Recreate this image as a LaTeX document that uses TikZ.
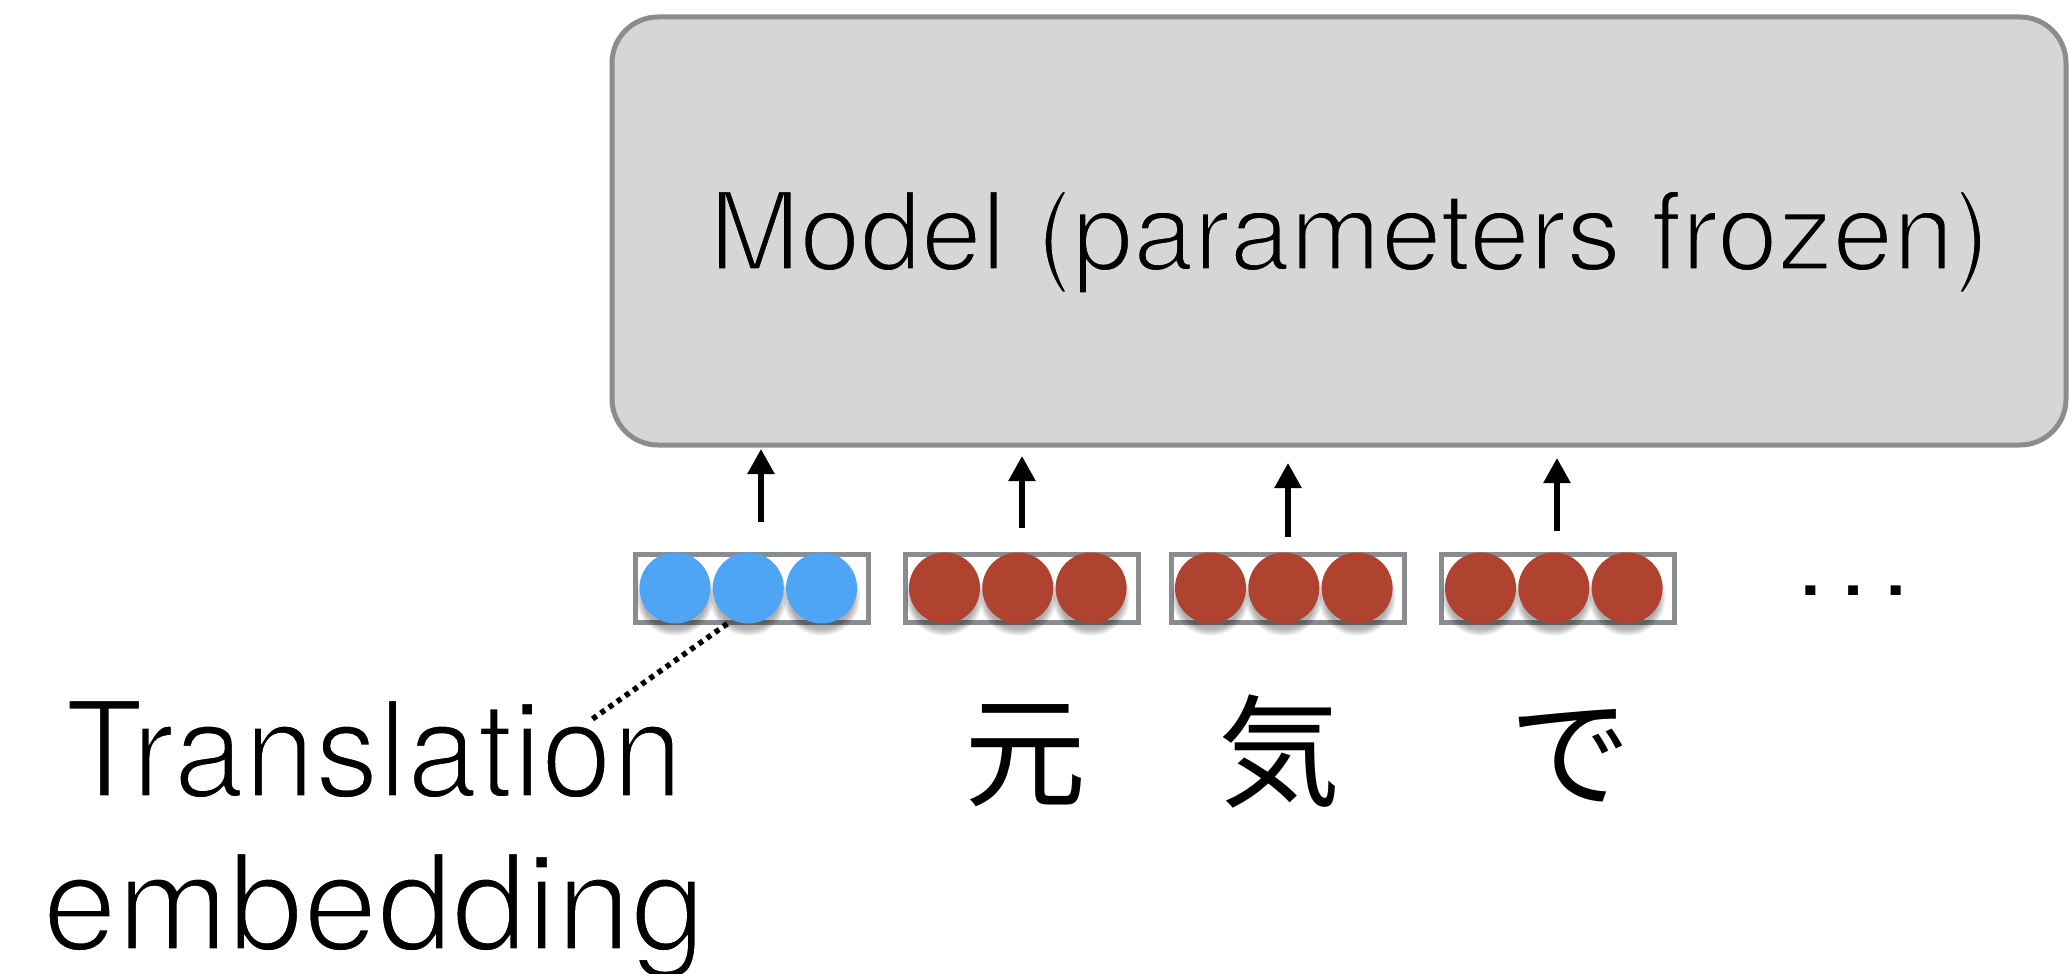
\documentclass[tikz,border=0pt]{standalone}
\usepackage{fontspec}
\setmainfont{TeX Gyre Heros}
\newfontfamily\narrowheros{TeX Gyre Heros}[FakeStretch=0.95]
\newfontfamily\jpfont{Noto Sans CJK JP}
\usetikzlibrary{arrows.meta,calc}

\definecolor{panelgray}{HTML}{D6D6D6}
\definecolor{framegray}{HTML}{898C90}
\definecolor{tokenblue}{HTML}{4FA5F5}
\definecolor{tokenred}{HTML}{B0432F}

% light weight: glyphs are filled, then their outlines are stroked in the
% background colour, which trims the strokes
\newcommand\thinglyphs[3]{\special{pdf:literal 2 Tr #1 w #2 RG}#3\special{pdf:literal 0 Tr}}

\begin{document}
\begin{tikzpicture}[x=1pt,y=-1pt,
  modelbox/.style={draw=framegray, fill=panelgray, line width=5pt, rounded corners=46pt,
    minimum width=1454pt, minimum height=428pt, inner sep=0pt},
  tokbox/.style={draw=framegray, fill=white, line width=5pt,
    minimum width=233pt, minimum height=68pt, inner sep=0pt},
  tokdot/.style={circle, inner sep=0pt, minimum size=71pt},
  uparrow/.style={line width=5.5pt, -{Triangle[width=26pt,length=25pt]}},
  pointer/.style={line width=5.5pt, dash pattern=on 5pt off 5pt},
  bigtext/.style={font=\fontsize{134}{153}\selectfont, inner sep=0pt},
  jptext/.style={font=\jpfont\fontsize{122}{140}\selectfont, inner sep=0pt},
]
\useasboundingbox (0,0) rectangle (2070,974);

% frozen model
\node[modelbox] (model) at (1339,231) {};
\node[font=\fontsize{109}{130}\selectfont, inner sep=0pt, anchor=base] (modellabel) at (1349.5,270)
  {\thinglyphs{3}{0.839 0.839 0.839}{Model (parameters frozen)}};

% token vectors with soft shadows under the dots
\foreach \bx/\bn in {752/b1, 1021.5/b2, 1287.5/b3, 1557.5/b4} {
  \node[tokbox] (\bn) at (\bx,588.5) {};
  \foreach \dx in {-77,-3.7,69.6} {
    \foreach \s in {-1.5,0,1.5,3,4.5}
      \fill[black,opacity=0.07] (\bx+\dx,597) circle[radius=34+\s];
  }
}
\foreach \bx/\bn/\col in {752/b1/tokenblue, 1021.5/b2/tokenred, 1287.5/b3/tokenred, 1557.5/b4/tokenred} {
  \foreach \dx/\k in {-77/1,-3.7/2,69.6/3}
    \node[tokdot, fill=\col] (\bn d\k) at (\bx+\dx,588) {};
}

% inputs into the model
\draw[uparrow, shorten >=1.5pt] ($(b1.north)+(9,-30)$) -- ($(b1.north |- model.south)+(9,0)$);
\draw[uparrow, shorten >=8.5pt] ($(b2.north)+(0.5,-24)$) -- ($(b2.north |- model.south)+(0.5,0)$);
\draw[uparrow, shorten >=15.5pt] ($(b3.north)+(0.5,-15)$) -- ($(b3.north |- model.south)+(0.5,0)$);
\draw[uparrow, shorten >=10.5pt] ($(b4.north)+(-0.5,-21)$) -- ($(b4.north |- model.south)+(-0.5,0)$);

\node[bigtext, font=\fontsize{128}{150}\selectfont, anchor=base] (ellip) at (1853,597)
  {\thinglyphs{3.5}{1 1 1}{…}};

% labels
\node[bigtext, align=center, anchor=base] (trlabel) at (374,950)
  {{\narrowheros\thinglyphs{3.5}{1 1 1}{Translation}}\\\thinglyphs{3.5}{1 1 1}{embedding}};
\coordinate (ptrend) at (591,720);
\draw[pointer] ($(b1d2.south)+(-21,0)$) -- (ptrend);

\node[jptext, anchor=base] (w1) at (1025,797) {元};
\node[jptext, anchor=base] (w2) at (1279,797) {気};
\node[jptext, anchor=base] (w3) at (1570,797) {で};
\end{tikzpicture}
\end{document}
